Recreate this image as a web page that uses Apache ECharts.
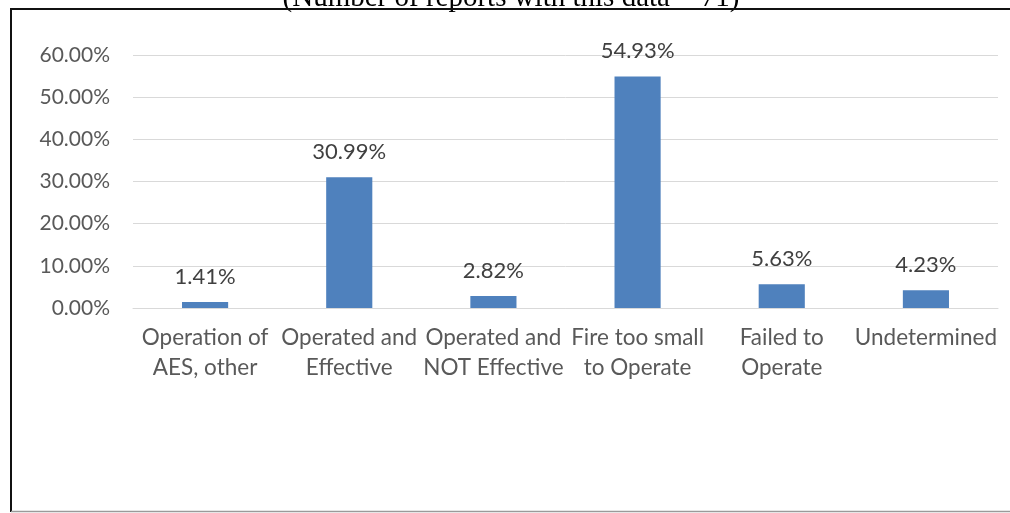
<!DOCTYPE html>
<html>
<head>
<meta charset="utf-8">
<script src="https://cdn.jsdelivr.net/npm/echarts@6/dist/echarts.min.js"></script>
<style>
  html, body { margin: 0; padding: 0; background: #ffffff; }
  #chart { width: 1010px; height: 513px; }
</style>
</head>
<body>
<div id="chart"></div>
<script>
// AES operation outcome, share of reports
const categories = [
  'Operation of\nAES, other',
  'Operated and\nEffective',
  'Operated and\nNOT Effective',
  'Fire too small\nto Operate',
  'Failed to\nOperate',
  'Undetermined'
];
const shares = [1.41, 30.99, 2.82, 54.93, 5.63, 4.23];
const yTicks = { min: 0, max: 60, step: 10 };
const subtitle = '(Number of reports with this data = 71)';

const labelFont = 'Lato, "Open Sans", sans-serif';
const pct = v => v.toFixed(2) + '%';

const chart = echarts.init(document.getElementById('chart'), null, { renderer: 'canvas' });

chart.setOption({
  animation: false,
  backgroundColor: '#ffffff',
  grid: { left: 133, right: 12, top: 55, bottom: 205, containLabel: false },
  xAxis: {
    type: 'category',
    data: categories,
    axisLine: { show: true, lineStyle: { color: '#d9d9d9', width: 1 } },
    axisTick: { show: false },
    axisLabel: {
      interval: 0,
      margin: 15,
      color: '#595959',
      fontFamily: labelFont,
      fontSize: 22.5,
      lineHeight: 30
    }
  },
  yAxis: {
    type: 'value',
    min: yTicks.min,
    max: yTicks.max,
    interval: yTicks.step,
    axisLine: { show: false },
    axisTick: { show: false },
    splitLine: { lineStyle: { color: '#d9d9d9', width: 1 } },
    axisLabel: {
      margin: 23,
      color: '#595959',
      fontFamily: labelFont,
      fontSize: 21,
      formatter: pct
    }
  },
  series: [{
    type: 'bar',
    data: shares,
    barWidth: '32%',
    itemStyle: { color: '#4f81bd' },
    label: {
      show: true,
      position: 'top',
      distance: 14,
      color: '#404040',
      fontFamily: labelFont,
      fontSize: 22,
      formatter: p => pct(p.value)
    }
  }],
  graphic: [
    {
      // subtitle sits mostly above the top edge; only its lower part shows
      type: 'text',
      z: 10,
      style: {
        text: subtitle,
        x: 511,
        y: 13,
        textAlign: 'center',
        textVerticalAlign: 'bottom',
        font: '29px "Liberation Serif", "DejaVu Serif", serif',
        fill: '#000000'
      }
    },
    {
      type: 'polyline',
      z: 20,
      shape: { points: [[11, 512], [11, 9], [1010, 9]] },
      style: { stroke: '#111111', lineWidth: 2, fill: null }
    },
    {
      type: 'line',
      z: 20,
      shape: { x1: 11, y1: 511.5, x2: 1010, y2: 511.5 },
      style: { stroke: '#9a9a9a', lineWidth: 1.5 }
    }
  ]
});
</script>
</body>
</html>
